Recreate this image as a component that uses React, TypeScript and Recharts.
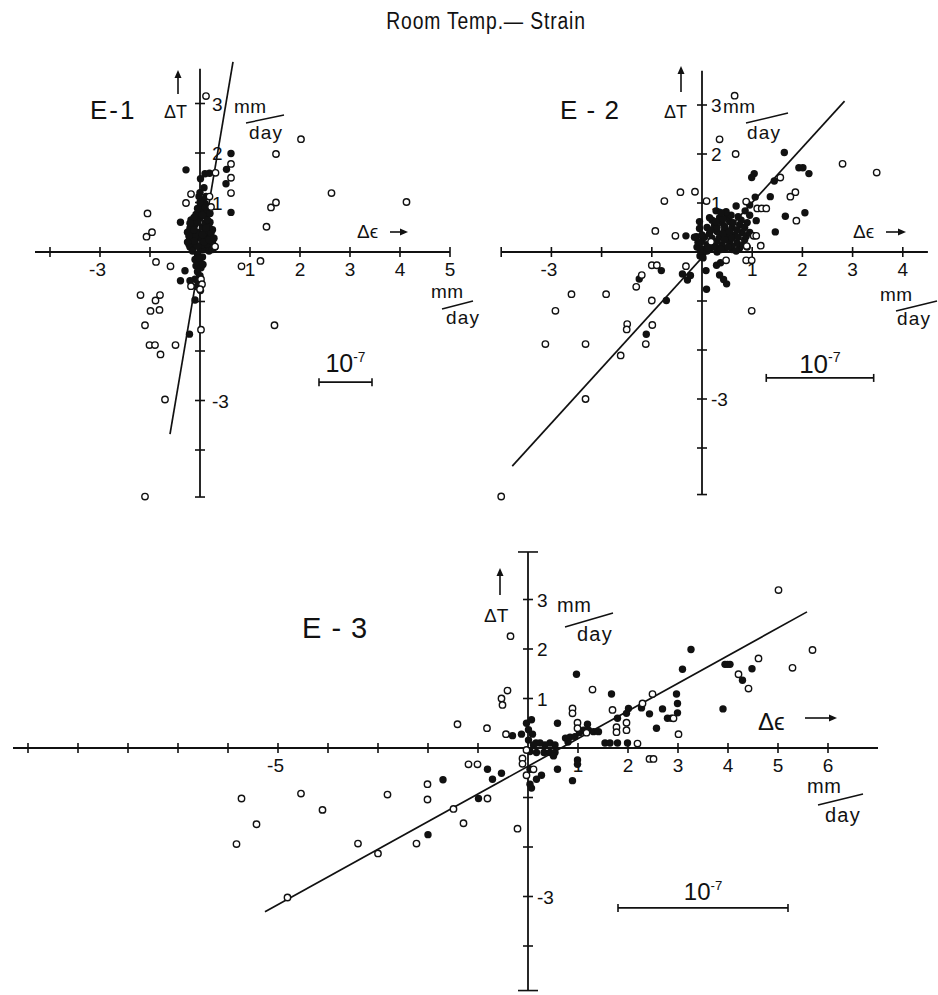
import { ScatterChart, Scatter, XAxis, YAxis, ReferenceLine, ReferenceDot } from "recharts";

type Pt = [number, number];

const INK = "#111";
const FONT = "'Liberation Sans', 'DejaVu Sans', sans-serif";

// ---- E-1 data (x = Δε, y = ΔT, mm/day) ----
const e1Open: Pt[] = [
  [0.12, 3.15], [2.02, 2.28], [1.52, 1.98], [0.62, 1.78], [0.31, 1.6], [0.62, 1.5],
  [0.62, 1.19], [2.63, 1.19], [4.13, 1.01], [-0.18, 1.17], [-0.28, 0.99], [0.19, 1.12],
  [0.22, 0.91], [1.52, 1.0], [1.42, 0.9], [1.33, 0.51], [-1.05, 0.78], [-0.96, 0.4],
  [-1.07, 0.31], [0.3, 0.11], [-0.88, -0.2], [-0.59, -0.29], [0.83, -0.29], [1.21, -0.18],
  [-0.18, -0.69], [-1.19, -0.87], [-0.8, -0.87], [-0.89, -0.98], [-0.99, -1.19], [-0.81, -1.17],
  [-1.1, -1.48], [-1.01, -1.88], [-0.9, -1.88], [-0.79, -2.07], [-0.49, -1.88], [0.02, -1.57],
  [1.49, -1.48], [-0.7, -2.98], [-1.1, -4.94], [0.02, -0.55], [0.04, -0.65], [0.0, -0.75],
];
const e1Filled: Pt[] = [
  [0.62, 1.99], [-0.28, 1.66], [0.53, 1.67], [0.01, 1.48], [0.1, 1.58], [0.19, 1.59],
  [0.52, 1.38], [0.62, 0.8], [-0.39, 0.6],
  [0.0, 0.05], [0.1, 0.05], [-0.15, 0.06], [0.2, 0.08], [-0.2, 0.1], [0.05, 0.15],
  [0.15, 0.15], [-0.1, 0.18], [0.25, 0.2], [-0.2, 0.25], [0.0, 0.28], [0.1, 0.3],
  [0.2, 0.32], [-0.15, 0.35], [-0.05, 0.4], [0.15, 0.42], [0.25, 0.45], [-0.2, 0.48],
  [0.05, 0.5], [-0.1, 0.55], [0.1, 0.58], [0.2, 0.6], [-0.18, 0.65], [0.0, 0.68],
  [0.12, 0.72], [-0.08, 0.76], [0.05, 0.82], [0.15, 0.85], [0.02, 0.92], [0.1, 0.98],
  [0.05, 1.05], [0.12, 1.12], [0.0, 1.2], [-0.1, 0.3], [0.3, 0.1], [-0.25, 0.4],
  [0.08, 0.2], [-0.05, 0.12],
  [-0.22, 0.15], [-0.12, 0.22], [0.18, 0.25], [-0.22, 0.32], [0.08, 0.38], [0.22, 0.38],
  [-0.12, 0.45], [0.18, 0.5], [-0.05, 0.6], [0.15, 0.65], [-0.12, 0.7], [0.05, 0.75],
  [0.2, 0.78], [-0.05, 0.88], [0.1, 0.92], [0.0, 1.0], [-0.2, 0.58], [0.28, 0.28],
  [-0.15, 0.02], [0.18, 0.02], [0.25, 0.05], [-0.25, 0.2], [0.05, 0.35], [0.12, 0.48],
  [-0.02, 1.12], [0.08, 1.3],
  [-0.05, -0.05], [0.05, -0.1], [-0.1, -0.15], [0.0, -0.2], [-0.08, -0.28], [0.02, -0.32],
  [-0.05, -0.4], [0.0, -0.48], [-0.1, -0.55], [0.02, -0.62], [0.01, -0.78], [-0.03, -0.12],
  [0.06, -0.25], [-0.04, -0.58], [-0.06, -0.7],
  [-0.3, -0.38], [-0.39, -0.58], [-0.2, -0.58], [-0.1, -0.97], [-0.21, -1.66],
];
const e1Fit: Pt[] = [[-0.6, -3.68], [0.66, 3.84]];
const e1XAxis = [-3.3, 5];
const e1YAxis = [-4.95, 3.7];
const e1XTicks = [-3, -2, -1, 1, 2, 3, 4, 5];
const e1YTicks = [3, 2, 1, -1, -2, -3, -4, -4.95];
const e1XLabels: [number, string][] = [[-2, "-3"], [1, "1"], [2, "2"], [3, "3"], [4, "4"], [5, "5"]];
const e1YLabels: [number, string][] = [[3, "3"], [2, "2"], [1, "1"], [-3, "-3"]];
const e1Bar: Pt[] = [[2.38, -2.63], [3.44, -2.63]];

// ---- E-2 data ----
const e2Open: Pt[] = [
  [0.65, 3.19], [0.35, 2.3], [0.67, 2.0], [2.8, 1.8], [1.56, 1.52], [1.86, 1.22],
  [1.76, 1.13], [0.88, 1.03], [0.09, 1.04], [-0.14, 1.23], [-0.43, 1.22], [-0.75, 1.04],
  [-0.93, 0.43], [-0.53, 0.33], [1.88, 0.64], [1.03, 0.33], [1.08, 0.33], [0.89, 0.12],
  [1.17, 0.13], [1.1, 0.89], [1.19, 0.89], [1.28, 0.89], [0.88, -0.17], [0.99, -0.17],
  [0.48, -0.17], [-0.32, -0.29], [-1.0, -0.27], [-0.9, -0.27], [-1.2, -0.47], [-1.31, -0.71],
  [-2.6, -0.86], [-1.91, -0.86], [-1.0, -0.99], [-2.92, -1.2], [-1.49, -1.47], [-1.5, -1.58],
  [-0.99, -1.49], [-3.12, -1.88], [-2.32, -1.88], [-1.12, -1.88], [-1.62, -2.11], [0.99, -1.2],
  [-2.32, -3.0], [-4.0, -4.99], [0.18, 0.21], [3.48, 1.62],
];
const e2Filled: Pt[] = [
  [1.64, 2.03], [1.93, 1.72], [2.01, 1.72], [2.13, 1.6], [1.04, 1.6], [0.99, 1.52],
  [1.44, 1.45], [1.06, 1.12], [1.36, 1.13], [0.68, 0.94], [0.28, 0.84], [1.66, 0.73],
  [2.05, 0.8], [1.08, 0.64], [1.46, 0.41], [-0.32, 0.33], [-0.11, 0.31], [-0.05, 0.62],
  [-0.05, 0.48], [0.86, 0.84], [0.95, 0.96],
  [0.05, 0.05], [0.15, 0.05], [0.3, 0.08], [0.45, 0.06], [0.6, 0.05], [0.75, 0.08],
  [-0.1, 0.1], [0.1, 0.15], [0.25, 0.18], [0.4, 0.15], [0.55, 0.2], [0.7, 0.18],
  [0.85, 0.25], [0.0, 0.22], [0.2, 0.28], [0.35, 0.3], [0.5, 0.32], [0.65, 0.35],
  [0.8, 0.4], [-0.15, 0.3], [0.15, 0.38], [0.3, 0.42], [0.45, 0.45], [0.6, 0.5],
  [0.75, 0.55], [0.25, 0.55], [0.4, 0.6], [0.55, 0.62], [0.35, 0.7], [0.5, 0.72],
  [0.9, 0.6], [0.95, 0.75], [0.1, 0.5], [0.2, 0.65], [-0.05, 0.08], [0.02, -0.02],
  [0.6, 0.12], [0.3, 0.0], [0.9, 0.1],
  [0.1, 0.02], [0.22, 0.1], [0.38, 0.05], [0.52, 0.1], [0.68, 0.02], [0.82, 0.15],
  [0.05, 0.3], [0.18, 0.45], [0.3, 0.22], [0.45, 0.25], [0.6, 0.28], [0.72, 0.3],
  [0.88, 0.32], [0.42, 0.38], [0.55, 0.42], [0.7, 0.45], [0.85, 0.5], [0.3, 0.5],
  [0.45, 0.52], [0.62, 0.6], [0.78, 0.65], [0.28, 0.62], [0.42, 0.68], [0.58, 0.75],
  [0.72, 0.72], [0.15, 0.7], [0.48, 0.82], [0.38, 0.8], [0.0, 0.35], [-0.08, 0.2],
  [0.12, 0.08], [0.95, 0.4],
  [0.29, -0.27], [0.37, -0.22], [0.08, -0.38], [0.09, -0.76], [0.35, -0.47], [0.43, -0.56],
  [0.49, -0.65], [-0.39, -0.45], [-0.29, -0.57], [-0.23, -0.48], [-0.81, -0.38], [-0.71, -0.99],
  [-1.11, -1.68], [-0.04, -0.08], [0.02, -0.12], [-1.25, -0.55],
];
const e2Fit: Pt[] = [[-3.78, -4.37], [2.84, 3.08]];
const e2XAxis = [-4, 4.5];
const e2YAxis = [-4.95, 3.7];
const e2XTicks = [-4, -3, -2, -1, 1, 2, 3, 4];
const e2YTicks = [3, 2, 1, -1, -2, -3, -4, -4.95];
const e2XLabels: [number, string][] = [[-3, "-3"], [1, "1"], [2, "2"], [3, "3"], [4, "4"]];
const e2YLabels: [number, string][] = [[3, "3"], [2, "2"], [1, "1"], [-3, "-3"]];
const e2Bar: Pt[] = [[1.28, -2.57], [3.42, -2.57]];

// ---- E-3 data ----
const e3Open: Pt[] = [
  [-1.41, 0.48], [-1.19, -0.33], [-1.01, -0.33], [-2.01, -0.73], [-2.01, -1.04], [-2.81, -0.94],
  [-4.54, -0.92], [-4.11, -1.25], [-5.73, -1.02], [-5.43, -1.54], [-5.83, -1.94], [-3.4, -1.93],
  [-3.0, -2.13], [-2.23, -1.93], [-1.49, -1.23], [-1.29, -1.52], [-4.81, -3.02], [-0.41, 1.16],
  [-0.53, 1.0], [-0.51, 0.87], [-0.82, 0.4], [-0.44, 0.28], [-0.11, -0.21], [-0.11, -0.32],
  [-0.03, -0.55], [0.11, -0.43], [-0.03, -0.04], [5.01, 3.19], [5.69, 1.98], [5.29, 1.62],
  [4.61, 1.81], [4.21, 1.49], [4.41, 1.2], [-0.35, 2.26], [1.29, 1.18], [2.49, 1.09],
  [2.29, 0.9], [1.69, 0.77], [0.89, 0.8], [0.89, 0.7], [0.99, 0.51], [0.99, 0.4],
  [1.17, 0.31], [1.77, 0.42], [1.77, 0.32], [1.97, 0.51], [1.97, 0.36], [2.91, 0.6],
  [3.01, 0.28], [2.19, 0.09], [2.43, -0.22], [2.51, -0.22], [-0.21, -1.63], [-0.81, -1.02],
];
const e3Filled: Pt[] = [
  [-1.7, -0.64], [-2.0, -1.75], [-0.31, 0.25], [-0.13, 0.28], [-0.81, -0.43], [-0.71, -0.63],
  [-0.53, -0.51], [-0.99, -1.02], [3.26, 1.99], [3.09, 1.59], [3.94, 1.69], [4.04, 1.69],
  [3.99, 1.69], [4.29, 1.37], [4.48, 1.6], [3.9, 0.79], [0.97, 1.49], [1.67, 1.09],
  [2.97, 1.09], [2.99, 0.9], [2.99, 0.71], [2.69, 0.79], [2.43, 0.69], [2.79, 0.6],
  [2.87, 0.6], [2.57, 0.4], [2.27, 0.81], [2.01, 0.8], [1.97, 0.7], [1.79, 0.6],
  [0.59, 0.5], [1.19, 0.48],
  [0.84, 0.22], [0.94, 0.23], [1.03, 0.31], [1.11, 0.36], [1.21, 0.36], [1.31, 0.33],
  [1.41, 0.33], [0.75, 0.2], [0.8, 0.12],
  [1.54, 0.1], [1.64, 0.1], [1.79, 0.1], [1.99, 0.1], [0.44, 0.1], [0.54, 0.06],
  [0.34, 0.06], [0.24, 0.1], [0.16, 0.1],
  [-0.03, 0.5], [0.07, 0.57], [0.01, 0.37], [0.09, 0.28], [0.01, 0.16], [0.11, 0.06],
  [0.04, -0.07],
  [0.04, -0.43], [0.17, -0.63], [0.27, -0.55], [0.07, -0.81], [0.04, -0.73], [0.59, -0.43],
  [0.89, -0.66], [0.99, -0.24], [0.99, -0.33], [0.17, -0.09], [0.32, -0.09], [0.44, -0.09],
  [0.54, -0.09], [0.51, -0.16],
];
const e3Fit: Pt[] = [[-5.26, -3.31], [5.58, 2.75]];
const e3XAxis = [-10.3, 7];
const e3YAxis = [-4.9, 3.96];
const e3XTicks = [-10, -9, -8, -7, -6, -5, -4, -3, -2, -1, 1, 2, 3, 4, 5, 6];
const e3YTicks = [3, 2, 1, -1, -2, -3, -4];
const e3YCaps = [-4.9, 3.96];
const e3XLabels: [number, string][] = [[-5, "-5"], [1, "1"], [2, "2"], [3, "3"], [4, "4"], [5, "5"], [6, "6"]];
const e3YLabels: [number, string][] = [[3, "3"], [2, "2"], [1, "1"], [-3, "-3"]];
const e3Bar: Pt[] = [[1.8, -3.23], [5.2, -3.23]];

// ---- helpers ----
interface Frame {
  left: number;
  top: number;
  width: number;
  height: number;
  ox: number; // origin, page px
  oy: number;
  ux: number; // px per unit
  uy: number;
}

const toObj = (pts: Pt[]) => pts.map(([x, y]) => ({ x, y }));

function Txt({ x, y, size = 18, anchor = "start", spacing = 0, children }: any) {
  return (
    <text x={x} y={y} fontSize={size} textAnchor={anchor} fontFamily={FONT} fill={INK} letterSpacing={spacing}>
      {children}
    </text>
  );
}

function ArrowUp({ x, y1, y2 }: { x: number; y1: number; y2: number }) {
  return (
    <g>
      <line x1={x} y1={y1} x2={x} y2={y2 + 6} stroke={INK} strokeWidth={1.6} />
      <path d={`M${x - 3.5},${y2 + 8} L${x},${y2} L${x + 3.5},${y2 + 8} Z`} fill={INK} />
    </g>
  );
}

function ArrowRight({ x1, x2, y }: { x1: number; x2: number; y: number }) {
  return (
    <g>
      <line x1={x1} y1={y} x2={x2 - 6} y2={y} stroke={INK} strokeWidth={1.6} />
      <path d={`M${x2 - 8},${y - 3.5} L${x2},${y} L${x2 - 8},${y + 3.5} Z`} fill={INK} />
    </g>
  );
}

// "mm / day" with a slanted fraction bar
function PerDay({ x, y, s, d, size = 19 }: { x: number; y: number; s: number[]; d: number[]; size?: number }) {
  return (
    <g>
      <Txt x={x} y={y} size={size} spacing={0.5}>mm</Txt>
      <line x1={x + s[0]} y1={y + s[1]} x2={x + s[2]} y2={y + s[3]} stroke={INK} strokeWidth={1.5} />
      <Txt x={x + d[0]} y={y + d[1]} size={size} spacing={1.2}>day</Txt>
    </g>
  );
}

const openDot = (p: any) => <circle cx={p.cx} cy={p.cy} r={3.2} fill="#fff" stroke={INK} strokeWidth={1.4} />;
const filledDot = (p: any) => <circle cx={p.cx} cy={p.cy} r={3.7} fill={INK} />;
const noDot = () => <g />;

interface PanelProps {
  f: Frame;
  open: Pt[];
  filled: Pt[];
  fit: Pt[];
  xAxis: number[];
  yAxis: number[];
  xTicks: number[];
  yTicks: number[];
  yCaps?: number[];
  xLabels: [number, string][];
  yLabels: [number, string][];
  yLabelDx: number;
  bar: Pt[];
  barText: { size: number; gap: number };
  notes: (cx: number, cy: number) => any;
}

function Panel({ f, open, filled, fit, xAxis, yAxis, xTicks, yTicks, yCaps = [], xLabels, yLabels, yLabelDx, bar, barText, notes }: PanelProps) {
  const xDomain = [(f.left - f.ox) / f.ux, (f.left + f.width - f.ox) / f.ux];
  const yDomain = [(f.oy - f.top - f.height) / f.uy, (f.oy - f.top) / f.uy];
  const barMid = (bar[0][0] + bar[1][0]) / 2;

  return (
    <div style={{ position: "absolute", left: f.left, top: f.top }}>
      <ScatterChart width={f.width} height={f.height} margin={{ top: 0, right: 0, bottom: 0, left: 0 }}>
        <XAxis type="number" dataKey="x" domain={xDomain} allowDataOverflow hide />
        <YAxis type="number" dataKey="y" domain={yDomain} allowDataOverflow hide />

        {/* axes through the origin */}
        <ReferenceLine segment={[{ x: xAxis[0], y: 0 }, { x: xAxis[1], y: 0 }]} stroke={INK} strokeWidth={1.8} ifOverflow="visible" />
        <ReferenceLine segment={[{ x: 0, y: yAxis[0] }, { x: 0, y: yAxis[1] }]} stroke={INK} strokeWidth={1.8} ifOverflow="visible" />

        {xTicks.map((v) => (
          <ReferenceDot key={`xt${v}`} x={v} y={0} r={0} ifOverflow="visible"
            shape={(p: any) => <line x1={p.cx} x2={p.cx} y1={p.cy - 5} y2={p.cy + 5} stroke={INK} strokeWidth={1.6} />} />
        ))}
        {yTicks.map((v) => (
          <ReferenceDot key={`yt${v}`} x={0} y={v} r={0} ifOverflow="visible"
            shape={(p: any) => <line x1={p.cx - 5} x2={p.cx + 5} y1={p.cy} y2={p.cy} stroke={INK} strokeWidth={1.6} />} />
        ))}
        {yCaps.map((v) => (
          <ReferenceDot key={`yc${v}`} x={0} y={v} r={0} ifOverflow="visible"
            shape={(p: any) => <line x1={p.cx - 10} x2={p.cx + 10} y1={p.cy} y2={p.cy} stroke={INK} strokeWidth={1.6} />} />
        ))}
        {xLabels.map(([v, t]) => (
          <ReferenceDot key={`xl${v}`} x={v} y={0} r={0} ifOverflow="visible"
            shape={(p: any) => (
              <Txt x={t.startsWith("-") ? p.cx + 6 : p.cx} y={p.cy + 24} size={19} anchor={t.startsWith("-") ? "end" : "middle"}>{t}</Txt>
            )} />
        ))}
        {yLabels.map(([v, t]) => (
          <ReferenceDot key={`yl${v}`} x={0} y={v} r={0} ifOverflow="visible"
            shape={(p: any) => <Txt x={p.cx + yLabelDx} y={p.cy + 7} size={19}>{t}</Txt>} />
        ))}

        {/* 10^-7 scale bar */}
        <ReferenceLine segment={[{ x: bar[0][0], y: bar[0][1] }, { x: bar[1][0], y: bar[1][1] }]} stroke={INK} strokeWidth={1.7} ifOverflow="visible" />
        {bar.map(([x, y], i) => (
          <ReferenceDot key={`bc${i}`} x={x} y={y} r={0} ifOverflow="visible"
            shape={(p: any) => <line x1={p.cx} x2={p.cx} y1={p.cy - 4} y2={p.cy + 4} stroke={INK} strokeWidth={1.6} />} />
        ))}
        <ReferenceDot x={barMid} y={bar[0][1]} r={0} ifOverflow="visible"
          shape={(p: any) => (
            <text x={p.cx} y={p.cy - barText.gap} textAnchor="middle" fontFamily={FONT} fill={INK} fontSize={barText.size}>
              10
              <tspan fontSize={barText.size * 0.55} dy={-barText.size * 0.42}>-7</tspan>
            </text>
          )} />

        {/* regression line, then the points */}
        <Scatter data={toObj(fit)} line={{ stroke: INK, strokeWidth: 1.7 }} shape={noDot} isAnimationActive={false} />
        <Scatter data={toObj(filled)} shape={filledDot} isAnimationActive={false} />
        <Scatter data={toObj(open)} shape={openDot} isAnimationActive={false} />

        <ReferenceDot x={0} y={0} r={0} ifOverflow="visible" shape={(p: any) => notes(p.cx, p.cy)} />
      </ScatterChart>
    </div>
  );
}

// ---- annotations, offsets from each panel's origin ----
const e1Notes = (cx: number, cy: number) => (
  <g>
    <Txt x={cx - 110} y={cy - 133} size={26} spacing={2}>E-1</Txt>
    <ArrowUp x={cx - 22} y1={cy - 158} y2={cy - 182} />
    <Txt x={cx - 36} y={cy - 134} size={18}>ΔT</Txt>
    <PerDay x={cx + 34} y={cy - 139} s={[12, 10, 50, 2]} d={[15, 26]} />
    <Txt x={cx + 157} y={cy - 14} size={19}>Δϵ</Txt>
    <ArrowRight x1={cx + 190} x2={cx + 208} y={cy - 20} />
    <PerDay x={cx + 231} y={cy + 46} s={[11, 11, 42, 3]} d={[15, 26]} />
  </g>
);

const e2Notes = (cx: number, cy: number) => (
  <g>
    <Txt x={cx - 142} y={cy - 133} size={26} spacing={1}>E - 2</Txt>
    <ArrowUp x={cx - 21} y1={cy - 160} y2={cy - 186} />
    <Txt x={cx - 38} y={cy - 134} size={18}>ΔT</Txt>
    <PerDay x={cx + 21} y={cy - 139} s={[23, 10, 65, 0]} d={[24, 26]} />
    <Txt x={cx + 151} y={cy - 14} size={19}>Δϵ</Txt>
    <ArrowRight x1={cx + 184} x2={cx + 204} y={cy - 20} />
    <PerDay x={cx + 178} y={cy + 49} s={[16, 10, 57, 0]} d={[17, 24]} />
  </g>
);

const e3Notes = (cx: number, cy: number) => (
  <g>
    <Txt x={cx - 226} y={cy - 110} size={29} spacing={1}>E - 3</Txt>
    <ArrowUp x={cx - 28} y1={cy - 153} y2={cy - 180} />
    <Txt x={cx - 44} y={cy - 126} size={19}>ΔT</Txt>
    <PerDay x={cx + 29} y={cy - 136} s={[8, 15, 56, 1]} d={[20, 29]} size={20} />
    <Txt x={cx + 230} y={cy - 18} size={24}>Δϵ</Txt>
    <ArrowRight x1={cx + 277} x2={cx + 309} y={cy - 30} />
    <PerDay x={cx + 279} y={cy + 45} s={[11, 12, 56, 1]} d={[18, 29]} size={20} />
  </g>
);

const e1Frame: Frame = { left: 0, top: 50, width: 485, height: 460, ox: 200, oy: 252, ux: 50, uy: 49.5 };
const e2Frame: Frame = { left: 485, top: 50, width: 453, height: 460, ox: 702, oy: 252, ux: 50.2, uy: 49 };
const e3Frame: Frame = { left: 0, top: 540, width: 938, height: 455, ox: 528, oy: 748, ux: 50, uy: 49.5 };

export default function App() {
  return (
    <div style={{ position: "absolute", left: 0, top: 0, width: 938, height: 995, background: "#fff", overflow: "hidden" }}>
      <div style={{ position: "absolute", left: 336, top: 8, width: 300, textAlign: "center", fontFamily: FONT, fontSize: 23, letterSpacing: 1, color: INK, transform: "scaleX(0.84)" }}>
        Room Temp.— Strain
      </div>
      <Panel f={e1Frame} open={e1Open} filled={e1Filled} fit={e1Fit} xAxis={e1XAxis} yAxis={e1YAxis}
        xTicks={e1XTicks} yTicks={e1YTicks} xLabels={e1XLabels} yLabels={e1YLabels} yLabelDx={12}
        bar={e1Bar} barText={{ size: 25, gap: 10 }} notes={e1Notes} />
      <Panel f={e2Frame} open={e2Open} filled={e2Filled} fit={e2Fit} xAxis={e2XAxis} yAxis={e2YAxis}
        xTicks={e2XTicks} yTicks={e2YTicks} xLabels={e2XLabels} yLabels={e2YLabels} yLabelDx={9}
        bar={e2Bar} barText={{ size: 26, gap: 5 }} notes={e2Notes} />
      <Panel f={e3Frame} open={e3Open} filled={e3Filled} fit={e3Fit} xAxis={e3XAxis} yAxis={e3YAxis}
        xTicks={e3XTicks} yTicks={e3YTicks} yCaps={e3YCaps} xLabels={e3XLabels} yLabels={e3YLabels} yLabelDx={9}
        bar={e3Bar} barText={{ size: 24, gap: 8 }} notes={e3Notes} />
    </div>
  );
}
